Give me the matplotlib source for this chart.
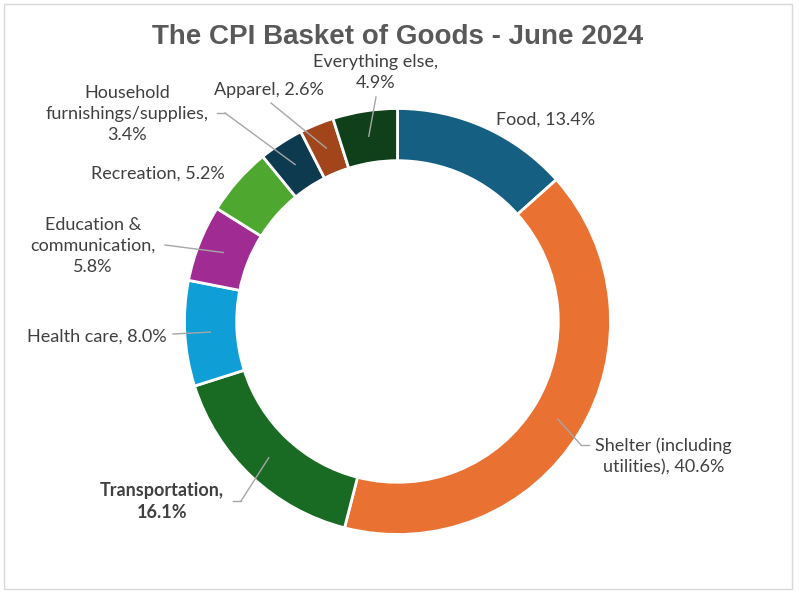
import matplotlib
matplotlib.use("Agg")
import matplotlib.pyplot as plt
import numpy as np
from matplotlib.patches import Rectangle

# ---- data ----
categories = ["Food", "Shelter (including\nutilities)", "Transportation", "Health care",
              "Education &\ncommunication", "Recreation", "Household\nfurnishings/supplies",
              "Apparel", "Everything else"]
values = [13.4, 40.6, 16.1, 8.0, 5.8, 5.2, 3.4, 2.6, 4.9]
colors = ["#156082", "#E97132", "#196B24", "#0F9ED5", "#A02B93", "#4EA72E",
          "#0D3A4E", "#A3451B", "#10401A"]
title = "The CPI Basket of Goods - June 2024"

W, H = 799, 594
fig = plt.figure(figsize=(W / 100, H / 100), dpi=100)
fig.patch.set_facecolor("white")

def fx(x):
    return x / W

def fy(y):
    return 1 - y / H

# frame
fig.patches.append(Rectangle((fx(4), fy(589)), (792 - 4) / W, (589 - 4) / H,
                              transform=fig.transFigure, fill=False,
                              edgecolor="#D9D9D9", linewidth=1))

cx, cy, R = 397.5, 321.5, 213
ax = fig.add_axes([fx(cx - R), fy(cy + R), 2 * R / W, 2 * R / H])
wedges, _ = ax.pie(values, colors=colors, startangle=90, counterclock=False,
                   wedgeprops=dict(width=0.245, edgecolor="white", linewidth=2))
ax.set_xlim(-1, 1)
ax.set_ylim(-1, 1)
ax.set_aspect("equal")
ax.axis("off")

fig.text(fx(397.5), fy(37), title, ha="center", va="center", fontsize=20,
         fontweight="bold", color="#595959", family=["Liberation Sans", "DejaVu Sans"])

lab_font = ["Lato", "DejaVu Sans"]
txt_color = "#404040"
line_color = "#A6A6A6"

# label layout: (text center px, elbow px or None, horizontal tail end px or None, bold)
layout = [
    ((546, 120), None, None, False),
    ((663.5, 456.5), (581, 445), (589, 445), False),
    ((162, 501.5), (241, 501), (233, 501), True),
    ((97, 337), (173, 334), None, False),
    ((93, 246), (165, 245), None, False),
    ((157.5, 174), None, None, False),
    ((127, 114), (225, 113), (217, 113), False),
    ((269, 90), (271, 103), None, False),
    ((375.5, 72.5), (376, 97), None, False),
]

def to_data(px, py):
    return ((px - cx) / R, (cy - py) / R)

for w, cat, v, (tpos, elbow, tail, bold) in zip(wedges, categories, values, layout):
    label = f"{cat}, {v:.1f}%"
    if cat == "Transportation" or cat.startswith("Everything") \
            or cat.startswith("Education") or cat.startswith("Household"):
        label = f"{cat},\n{v:.1f}%"
    fig.text(fx(tpos[0]), fy(tpos[1]), label, ha="center", va="center",
             fontsize=13, color=txt_color, family=lab_font,
             fontweight="bold" if bold else "normal", linespacing=1.4,
             multialignment="center")
    if elbow is not None:
        ang = np.deg2rad((w.theta1 + w.theta2) / 2)
        r = 0.88
        p = (r * np.cos(ang), r * np.sin(ang))
        e = to_data(*elbow)
        ax.plot([p[0], e[0]], [p[1], e[1]], color=line_color, lw=1, clip_on=False)
        if tail is not None:
            t = to_data(*tail)
            ax.plot([e[0], t[0]], [e[1], t[1]], color=line_color, lw=1, clip_on=False)

fig.savefig("out.png", dpi=100, facecolor="white")
